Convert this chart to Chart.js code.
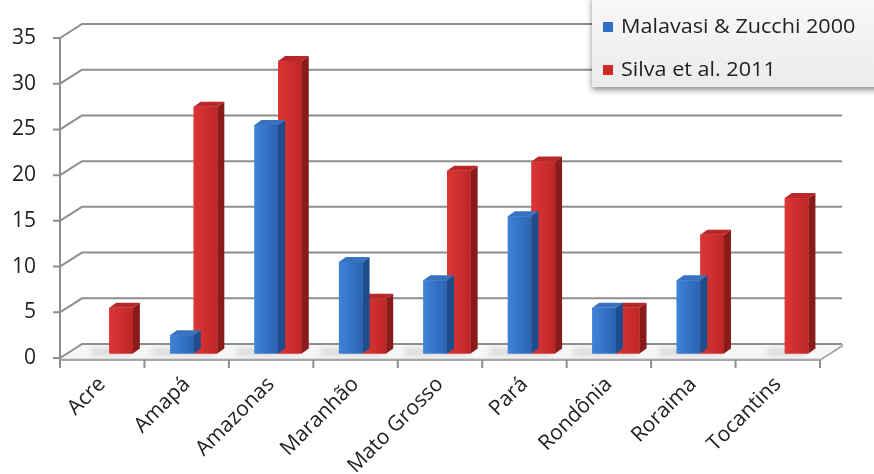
<!DOCTYPE html>
<html><head><meta charset="utf-8">
<script src="https://cdn.jsdelivr.net/npm/chart.js@4.4.0/dist/chart.umd.min.js"></script>
<style>html,body{margin:0;padding:0;background:#fff}#wrap{width:874px;height:474px}</style>
</head><body><div id="wrap"><canvas id="c" width="874" height="474"></canvas></div>
<script>
const categories = ['Acre','Amapá','Amazonas','Maranhão','Mato Grosso','Pará','Rondônia','Roraima','Tocantins'];
const malavasiZucchi2000 = [0,2,25,10,8,15,5,8,0];
const silva2011 = [5,27,32,6,20,21,5,13,17];
const seriesLabels = ['Malavasi & Zucchi 2000','Silva et al. 2011'];
const yTicks = [0,5,10,15,20,25,30,35];

const DX = 22, DY = 14;      // wall depth
const BX = 7, BY = -4.5;     // bar front offset
const BDX = 7, BDY = -5;     // bar depth
const STYLE = [
  {front0:'#3f83da', front1:'#2b63b2', side:'#1e4d8e', top:'#3a72c0', key:'#2f6fc4'},
  {front0:'#dc3636', front1:'#bf2626', side:'#8a1b1b', top:'#b82828', key:'#d02a2a'}
];
const GRID = '#8e8e8e';

const depthPlugin = {
  id: 'depth3d',
  beforeDatasetsDraw(chart) {
    const {ctx, chartArea: a, scales: {x, y}} = chart;
    const y0 = y.getPixelForValue(0);
    ctx.save();
    ctx.fillStyle = '#f6f6f6';
    ctx.beginPath();
    ctx.moveTo(a.left, y0); ctx.lineTo(a.right, y0);
    ctx.lineTo(a.right + DX, y0 - DY); ctx.lineTo(a.left + DX, y0 - DY);
    ctx.closePath(); ctx.fill();
    ctx.fillStyle = '#dcdcdc';
    ctx.fillRect(a.left, y0, a.right - a.left, 3);
    ctx.strokeStyle = GRID; ctx.lineWidth = 2;
    yTicks.forEach(v => {
      const py = y.getPixelForValue(v);
      ctx.beginPath();
      ctx.moveTo(a.left - 7, py); ctx.lineTo(a.left, py);
      ctx.lineTo(a.left + DX, py - DY); ctx.lineTo(a.right + DX, py - DY);
      ctx.stroke();
    });
    ctx.beginPath();
    ctx.moveTo(a.left, y.getPixelForValue(yTicks[yTicks.length - 1]));
    ctx.lineTo(a.left, y0 + 3);
    ctx.stroke();
    ctx.strokeStyle = '#a8a8a8';
    ctx.beginPath();
    ctx.moveTo(a.left, y0 + 2); ctx.lineTo(a.right, y0 + 2);
    ctx.lineTo(a.right + DX, y0 - DY + 2); ctx.lineTo(a.right + DX, y0 - DY);
    ctx.stroke();
    const half = (x.getPixelForValue(1) - x.getPixelForValue(0)) / 2;
    ctx.strokeStyle = GRID;
    for (let k = 0; k <= categories.length; k++) {
      const px = x.getPixelForValue(0) - half + 2 * half * k;
      ctx.beginPath(); ctx.moveTo(px, y0 + 2); ctx.lineTo(px, y0 + 10); ctx.stroke();
    }
    ctx.restore();
    ctx.save();
    ctx.translate(BX, BY);
    ctx.save();
    ctx.filter = 'blur(3px)';
    ctx.fillStyle = 'rgba(150,150,150,0.45)';
    const metas = chart.getSortedVisibleDatasetMetas();
    categories.forEach((c, i) => {
      let l = Infinity, r = -Infinity, base = 0, any = false;
      metas.forEach(m => {
        const p = m.data[i].getProps(['x', 'y', 'base', 'width'], true);
        if (Math.abs(p.base - p.y) < 0.5) return;
        any = true;
        l = Math.min(l, p.x - p.width / 2); r = Math.max(r, p.x + p.width / 2); base = p.base;
      });
      if (!any) return;
      ctx.fillRect(l - 18, base - 4, r - l + 14, 5);
    });
    ctx.restore();
  },
  afterDatasetDraw(chart, args) {
    const ctx = chart.ctx;
    const st = STYLE[args.index];
    args.meta.data.forEach(bar => {
      const {x, y, base, width} = bar.getProps(['x', 'y', 'base', 'width'], true);
      if (Math.abs(base - y) < 0.5) return;
      const l = x - width / 2, r = x + width / 2;
      const g = ctx.createLinearGradient(l, 0, r, 0);
      g.addColorStop(0, st.front0); g.addColorStop(1, st.front1);
      ctx.fillStyle = g;
      ctx.fillRect(l, y, width, base - y);
      ctx.fillStyle = st.side;
      ctx.beginPath();
      ctx.moveTo(r, y); ctx.lineTo(r + BDX, y + BDY);
      ctx.lineTo(r + BDX, base + BDY); ctx.lineTo(r, base);
      ctx.closePath(); ctx.fill();
      ctx.fillStyle = st.top;
      ctx.beginPath();
      ctx.moveTo(l, y); ctx.lineTo(r, y);
      ctx.lineTo(r + BDX, y + BDY); ctx.lineTo(l + BDX, y + BDY);
      ctx.closePath(); ctx.fill();
    });
  },
  afterDatasetsDraw(chart) { chart.ctx.restore(); },
  afterDraw(chart) {
    const ctx = chart.ctx;
    ctx.save();
    ctx.shadowColor = 'rgba(0,0,0,0.45)';
    ctx.shadowBlur = 6; ctx.shadowOffsetY = 3; ctx.shadowOffsetX = 0;
    const g = ctx.createLinearGradient(0, 0, 0, 88);
    g.addColorStop(0, '#f8f8f8'); g.addColorStop(1, '#ebebeb');
    ctx.fillStyle = g;
    ctx.fillRect(592, -4, 300, 91);
    ctx.restore();
    ctx.save();
    ctx.font = '20px "Open Sans"';
    ctx.textBaseline = 'middle';
    chart.data.datasets.forEach((ds, i) => {
      const cy = 27 + i * 43;
      ctx.fillStyle = STYLE[i].key;
      ctx.fillRect(603, cy - 5, 10, 10);
      ctx.fillStyle = '#222';
      ctx.save();
      ctx.translate(621, cy);
      ctx.scale(1.08, 1);
      ctx.fillText(ds.label, 0, 0);
      ctx.restore();
    });
    ctx.restore();
  }
};

new Chart(document.getElementById('c'), {
  type: 'bar',
  data: {
    labels: categories,
    datasets: [
      {label: seriesLabels[0], data: malavasiZucchi2000, backgroundColor: STYLE[0].front0, borderWidth: 0, clip: false},
      {label: seriesLabels[1], data: silva2011, backgroundColor: STYLE[1].front0, borderWidth: 0, clip: false}
    ]
  },
  options: {
    responsive: false,
    animation: false,
    devicePixelRatio: 1,
    layout: {padding: {left: 0, right: 54, top: 38, bottom: 0}},
    datasets: {bar: {categoryPercentage: 0.56, barPercentage: 1}},
    plugins: {legend: {display: false}, tooltip: {enabled: false}},
    scales: {
      x: {
        grid: {display: false, drawTicks: false}, border: {display: false},
        ticks: {autoSkip: false, maxRotation: 45, minRotation: 45, padding: 14,
          color: '#222', font: {family: '"Open Sans"', size: 21}},
        afterFit(s) { s.height = 116; }
      },
      y: {
        min: 0, max: 35,
        grid: {display: false, drawTicks: false}, border: {display: false},
        afterBuildTicks(s) { s.ticks = yTicks.map(v => ({value: v})); },
        ticks: {padding: 24, color: '#222', font: {family: '"Open Sans"', size: 21}},
        afterFit(s) { s.width = 60; }
      }
    }
  },
  plugins: [depthPlugin]
});
</script></body></html>
